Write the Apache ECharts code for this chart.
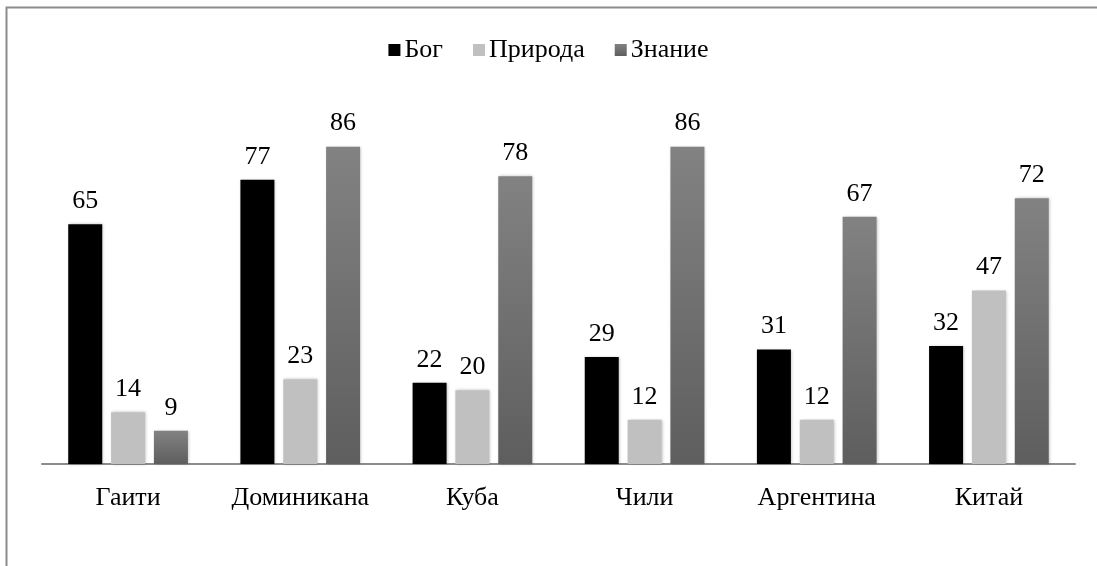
<!DOCTYPE html>
<html>
<head>
<meta charset="utf-8">
<script src="https://cdn.jsdelivr.net/npm/echarts@6/dist/echarts.min.js"></script>
<style>
    html, body { margin: 0; padding: 0; background: #fff; }
    #chart { width: 1097px; height: 566px; }
</style>
</head>
<body>
<div id="chart"></div>
<script>
// данные
const countries = ['Гаити', 'Доминикана', 'Куба', 'Чили', 'Аргентина', 'Китай'];
const god = [65, 77, 22, 29, 31, 32];
const nature = [14, 23, 20, 12, 12, 47];
const knowledge = [9, 86, 78, 86, 67, 72];

const font = 'Liberation Serif';

const myChart = echarts.init(document.getElementById('chart'));

const label = {
    show: true,
    position: 'top',
    distance: 10,
    color: '#000',
    fontFamily: font,
    fontSize: 26
};
const shadow = {
    shadowColor: 'rgba(0,0,0,0.25)',
    shadowBlur: 3,
    shadowOffsetX: 1
};

let option = {
    backgroundColor: '#fff',
    animation: false,
    textStyle: { fontFamily: font },
    graphic: [{
        type: 'rect',
        shape: { x: 6.5, y: 7.5, width: 1200, height: 700 },
        style: { fill: 'none', stroke: '#8c8c8c', lineWidth: 2 },
        silent: true
    }],
    legend: {
        top: 32,
        left: 'center',
        itemWidth: 12,
        itemHeight: 12,
        itemGap: 30,
        icon: 'rect',
        textStyle: { fontFamily: font, fontSize: 26, color: '#000', padding: [0, 0, 0, -1] },
        data: ['Бог', 'Природа', 'Знание']
    },
    grid: {
        top: 95,
        left: 42,
        right: 22,
        bottom: 102
    },
    xAxis: {
        type: 'category',
        data: countries,
        axisLine: { lineStyle: { color: '#8c8c8c', width: 2 } },
        axisTick: { show: false },
        axisLabel: { interval: 0, color: '#000', fontFamily: font, fontSize: 26, margin: 21 }
    },
    yAxis: {
        type: 'value',
        min: 0,
        max: 100,
        show: false,
        splitLine: { show: false }
    },
    series: [{
        name: 'Бог',
        type: 'bar',
        data: god,
        barWidth: 34,
        barGap: '26%',
        itemStyle: Object.assign({ color: '#000' }, shadow),
        label: label
    }, {
        name: 'Природа',
        type: 'bar',
        data: nature,
        barWidth: 34,
        barGap: '26%',
        itemStyle: Object.assign({ color: '#c0c0c0' }, shadow),
        label: label
    }, {
        name: 'Знание',
        type: 'bar',
        data: knowledge,
        barWidth: 34,
        barGap: '26%',
        itemStyle: Object.assign({
            color: new echarts.graphic.LinearGradient(0, 0, 0, 1, [
                { offset: 0, color: '#828282' },
                { offset: 1, color: '#5e5e5e' }
            ])
        }, shadow),
        label: label
    }]
};

myChart.setOption(option, true);
</script>
</body>
</html>
